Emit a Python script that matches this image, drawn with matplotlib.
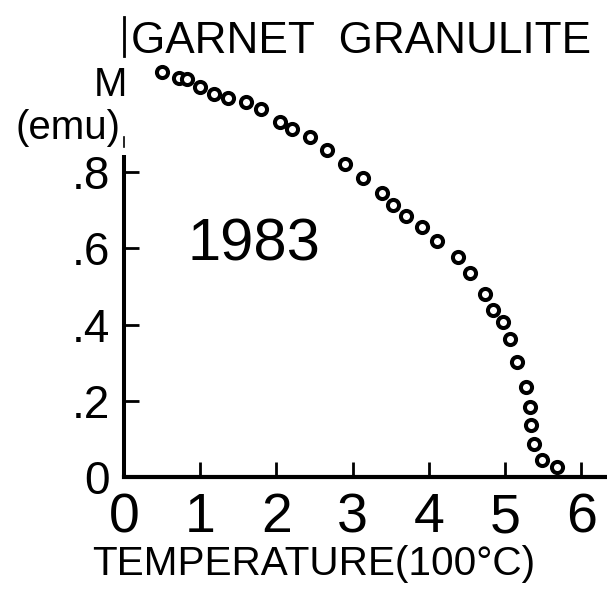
import matplotlib
matplotlib.use("Agg")
import matplotlib.pyplot as plt
from matplotlib import font_manager as fm

# ---------------- data ----------------
temperature = [0.50, 0.72, 0.83, 1.00, 1.18, 1.37, 1.60, 1.80, 2.05, 2.21,
               2.44, 2.66, 2.90, 3.14, 3.39, 3.53, 3.70, 3.91, 4.11, 4.38,
               4.54, 4.74, 4.84, 4.97, 5.07, 5.16, 5.28, 5.33, 5.34, 5.38,
               5.49, 5.68]
magnetization = [1.063, 1.047, 1.045, 1.024, 1.005, 0.995, 0.984, 0.966, 0.932, 0.913,
                 0.892, 0.858, 0.822, 0.785, 0.745, 0.714, 0.685, 0.656, 0.619, 0.577,
                 0.535, 0.480, 0.438, 0.407, 0.362, 0.302, 0.236, 0.184, 0.136, 0.087,
                 0.045, 0.026]
x_ticks = [0, 1, 2, 3, 4, 5, 6]
x_tick_labels = ["0", "1", "2", "3", "4", "5", "6"]
y_ticks = [0.0, 0.2, 0.4, 0.6, 0.8]
y_tick_labels = ["0", ".2", ".4", ".6", ".8"]
title_text = "GARNET  GRANULITE"
ylabel_top = "M"
ylabel_unit = "(emu)"
xlabel_text = "TEMPERATURE(100°C)"
year_text = "1983"

# ---------------- fonts ----------------
names = {f.name for f in fm.fontManager.ttflist}
base_font = "Liberation Sans" if "Liberation Sans" in names else "DejaVu Sans"
plt.rcParams["font.family"] = [base_font, "DejaVu Sans"]

# ---------------- figure geometry (pixels) ----------------
W, H = 607, 590
X0, Y0 = 124, 477          # pixel position of data origin
PX_PER_X = 76.2            # pixels per 100 degC
PX_PER_Y = 381.0           # pixels per emu unit


def fx(px):
    return px / W


def fy(py):
    return 1 - py / H


fig = plt.figure(figsize=(W / 100, H / 100), dpi=100)
ax = fig.add_axes([fx(X0), fy(Y0), (W - X0) / W, Y0 / H])
ax.set_xlim(0, (W - X0) / PX_PER_X)
ax.set_ylim(0, Y0 / PX_PER_Y)
ax.patch.set_alpha(0)

for s in ("top", "right"):
    ax.spines[s].set_visible(False)
ax.spines["left"].set_linewidth(2.9)
ax.spines["bottom"].set_linewidth(3.0)
ax.spines["left"].set_bounds(0, (Y0 - 155) / PX_PER_Y)
ax.spines["left"].set_capstyle("butt")

# broken upper pieces of the vertical axis line
ax.axvline(0, ymin=(Y0 - 147) / Y0, ymax=(Y0 - 137) / Y0, color="black", lw=1.2, clip_on=False)
ax.axvline(0, ymin=(Y0 - 56) / Y0, ymax=(Y0 - 17) / Y0, color="black", lw=2.0, clip_on=False)

ax.plot(temperature, magnetization, linestyle="none", marker="o", ms=8.0,
        mfc="white", mec="black", mew=2.9, clip_on=False, zorder=3)

ax.set_xticks(x_ticks)
ax.set_xticklabels(x_tick_labels)
ax.set_yticks(y_ticks)
ax.set_yticklabels(y_tick_labels)
ax.tick_params(axis="x", direction="in", length=10.5, width=2.0, pad=11,
               labelsize=40, colors="black")
ax.tick_params(axis="y", direction="in", length=10.5, width=2.0, pad=10,
               labelsize=33, colors="black")

# texts
t_title = fig.text(fx(131), fy(53), title_text, ha="left", va="baseline", fontsize=34)
fig.text(fx(127), fy(96), ylabel_top, ha="right", va="baseline", fontsize=29)
fig.text(fx(121), fy(139), ylabel_unit, ha="right", va="baseline", fontsize=29)
t_xl = fig.text(fx(92), fy(575), xlabel_text, ha="left", va="baseline", fontsize=30)
ax.text((254 - X0) / PX_PER_X, (Y0 - 260) / PX_PER_Y, year_text, ha="center",
        va="baseline", fontsize=43)

# fit the long labels to their width in the reference
fig.canvas.draw()
r = fig.canvas.get_renderer()
for t, target in ((t_title, 460), (t_xl, 442)):
    bb = t.get_window_extent(r)
    t.set_fontsize(t.get_fontsize() * target / bb.width)

fig.savefig("out.png", dpi=100)
